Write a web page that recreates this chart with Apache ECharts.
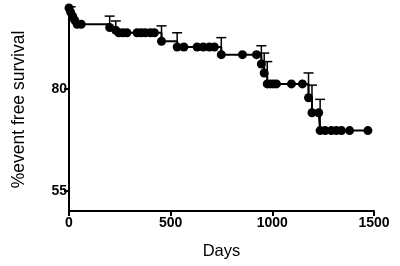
<!DOCTYPE html>
<html>
<head>
<meta charset="utf-8">
<script src="https://cdn.jsdelivr.net/npm/echarts@6/dist/echarts.min.js"></script>
<style>html,body{margin:0;padding:0;background:#fff}#c{width:400px;height:266px}</style>
</head>
<body>
<div id="c"></div>
<script>
// Kaplan-Meier steps: days and survival (%)
const days = [0, 8, 18, 28, 40, 60, 200, 230, 245, 265, 285, 335, 355, 375, 400, 420, 455, 532, 565, 630, 660, 690, 715, 749, 853, 922, 946, 960, 975, 990, 1005, 1020, 1094, 1148, 1178, 1195, 1228, 1235, 1260, 1290, 1315, 1340, 1380, 1470];
const survival = [100, 99.0, 98.0, 97.0, 96.0, 96.0, 95.2, 94.5, 93.9, 93.9, 93.9, 93.9, 93.9, 93.9, 93.9, 93.9, 91.8, 90.4, 90.4, 90.4, 90.4, 90.4, 90.4, 88.5, 88.5, 88.5, 86.2, 84.0, 81.3, 81.3, 81.3, 81.3, 81.3, 81.3, 77.9, 74.2, 74.2, 69.8, 69.8, 69.8, 69.8, 69.8, 69.8, 69.8];
// error bars: day, value, upper end
const errDays = [8, 200, 230, 455, 532, 749, 946, 960, 975, 1178, 1195, 1235];
const errLow  = [99.0, 95.2, 94.5, 91.8, 90.4, 88.5, 86.2, 84.0, 81.3, 77.9, 74.2, 69.8];
const errHigh = [100.3, 98.0, 96.8, 95.6, 93.9, 92.7, 90.7, 88.9, 86.8, 84.0, 81.0, 77.5];
const xTicks = [0, 500, 1000, 1500];
const yTicks = [55, 80];

const lineData = days.map((d, i) => [d, survival[i]]);
const errData = errDays.map((d, i) => [d, errLow[i], errHigh[i]]);

const chart = echarts.init(document.getElementById('c'), null, {renderer: 'canvas'});
chart.setOption({
  animation: false,
  backgroundColor: '#fff',
  grid: {left: 69, right: 26, top: 8, bottom: 55, containLabel: false},
  xAxis: {
    type: 'value', min: 0, max: 1500, interval: 500,
    name: 'Days', nameLocation: 'middle', nameGap: 32,
    nameTextStyle: {fontFamily: 'Liberation Sans', fontSize: 16.5, color: '#000'},
    axisLine: {show: true, lineStyle: {color: '#000', width: 2}},
    axisTick: {show: true, length: 5, lineStyle: {color: '#000', width: 2}},
    axisLabel: {fontFamily: 'Liberation Sans', fontSize: 14, fontWeight: 'bold', color: '#000', margin: 5,
      customValues: xTicks, formatter: function (v) { return String(v); }},
    splitLine: {show: false}
  },
  yAxis: {
    type: 'value', min: 50, max: 100,
    name: '%event free survival', nameLocation: 'middle', nameGap: 41,
    nameTextStyle: {fontFamily: 'Liberation Sans', fontSize: 17.5, color: '#000'},
    axisLine: {show: true, lineStyle: {color: '#000', width: 2}},
    axisTick: {show: true, length: 5, customValues: yTicks, lineStyle: {color: '#000', width: 2}},
    axisLabel: {fontFamily: 'Liberation Sans', fontSize: 14, fontWeight: 'bold', color: '#000', margin: 2,
      customValues: yTicks, formatter: function (v) { return String(v); }},
    splitLine: {show: false}
  },
  series: [
    {
      type: 'custom',
      data: errData,
      z: 3,
      renderItem: function (params, api) {
        const p0 = api.coord([api.value(0), api.value(1)]);
        const p1 = api.coord([api.value(0), api.value(2)]);
        const hw = 5;
        return {
          type: 'group',
          children: [
            {type: 'line', shape: {x1: p0[0], y1: p0[1], x2: p1[0], y2: p1[1]}, style: {stroke: '#000', lineWidth: 1.5}},
            {type: 'line', shape: {x1: p1[0] - hw, y1: p1[1], x2: p1[0] + hw, y2: p1[1]}, style: {stroke: '#000', lineWidth: 1.5}}
          ]
        };
      }
    },
    {
      type: 'line',
      step: 'end',
      data: lineData,
      symbol: 'circle',
      symbolSize: 9,
      showAllSymbol: true,
      lineStyle: {color: '#000', width: 2},
      itemStyle: {color: '#000'},
      z: 4
    }
  ]
});
</script>
</body>
</html>
